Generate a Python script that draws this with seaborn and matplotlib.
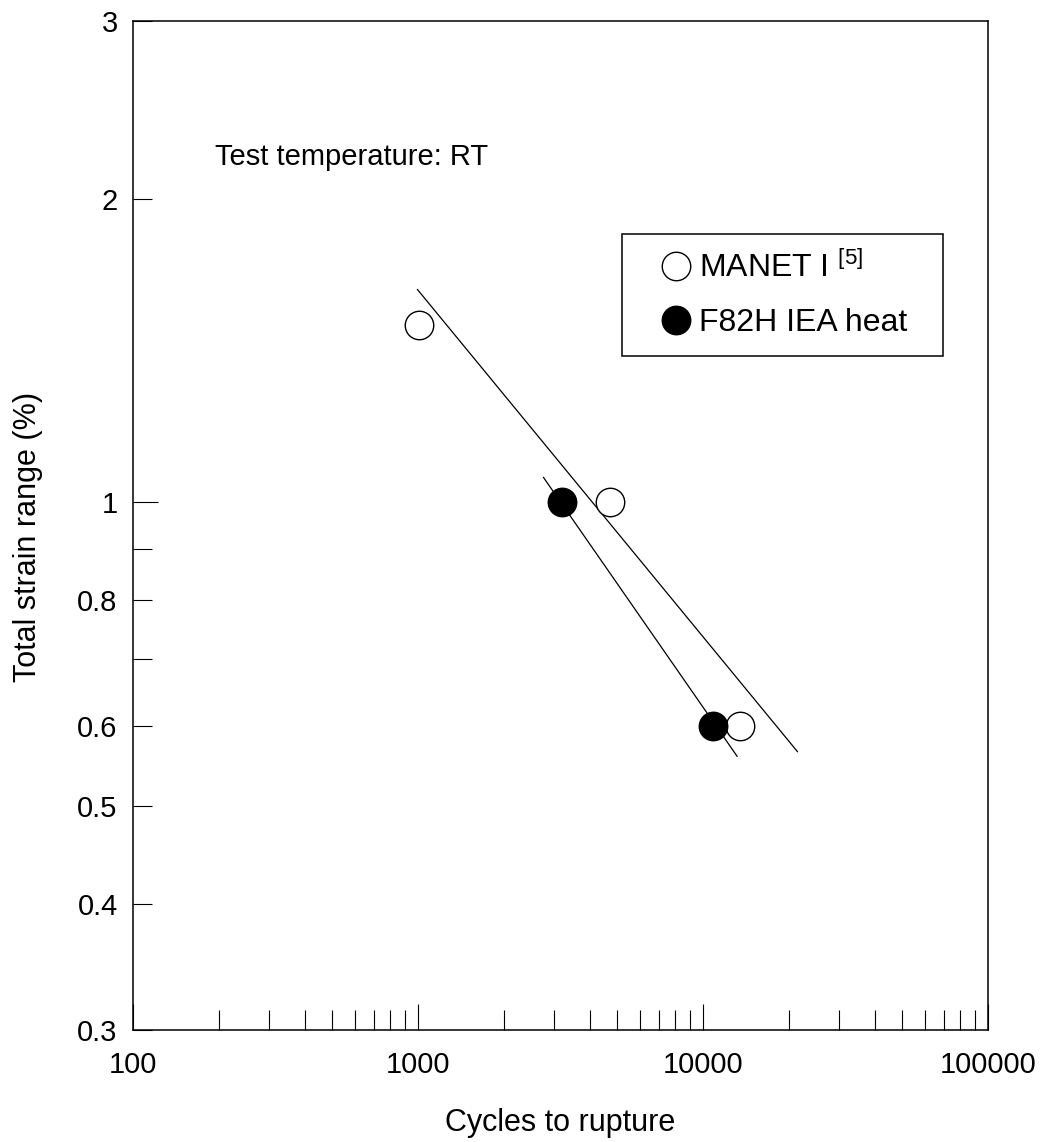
import numpy as np
import pandas as pd
import seaborn as sns
import matplotlib
matplotlib.use("Agg")
import matplotlib.pyplot as plt
from matplotlib.ticker import FixedLocator, FuncFormatter, NullFormatter
from matplotlib.lines import Line2D

# ---- data -------------------------------------------------------------
manet_cycles = [1010, 4720, 13490]
manet_strain = [1.5, 1.0, 0.6]

f82h_cycles = [3190, 10870]
f82h_strain = [1.0, 0.6]

# end points of the fitted fatigue lines
manet_fit_cycles = [995, 21480]
manet_fit_strain = [1.626, 0.566]
f82h_fit_cycles = [2755, 13190]
f82h_fit_strain = [1.059, 0.560]

series_names = ["MANET I $^{[5]}$", "F82H IEA heat"]

y_labelled = [0.3, 0.4, 0.5, 0.6, 0.8, 1, 2, 3]
y_unlabelled = [0.7, 0.9]
x_major = [100, 1000, 10000, 100000]

# ---- style ------------------------------------------------------------
sns.set_theme(style="white")
plt.rcParams["font.family"] = ["Liberation Sans", "DejaVu Sans"]
plt.rcParams["mathtext.fontset"] = "custom"
plt.rcParams["mathtext.rm"] = "Liberation Sans"
for key in ["text.color", "axes.labelcolor", "xtick.color", "ytick.color",
            "xtick.labelcolor", "ytick.labelcolor"]:
    plt.rcParams[key] = "black"

fig = plt.figure(figsize=(10.62, 11.42), dpi=100)
ax = fig.add_axes([0.1252, 0.0981, 0.8051, 0.8835])

points = pd.DataFrame({
    "cycles": manet_cycles + f82h_cycles,
    "strain": manet_strain + f82h_strain,
    "material": [series_names[0]] * len(manet_cycles) + [series_names[1]] * len(f82h_cycles),
})
fits = pd.DataFrame({
    "cycles": manet_fit_cycles + f82h_fit_cycles,
    "strain": manet_fit_strain + f82h_fit_strain,
    "material": [series_names[0]] * 2 + [series_names[1]] * 2,
})

ax.set_xscale("log")
ax.set_yscale("log")

sns.lineplot(data=fits, x="cycles", y="strain", units="material", estimator=None,
             color="black", linewidth=0.9, ax=ax, legend=False, sort=False)

for name, face in zip(series_names, ["white", "black"]):
    sub = points[points["material"] == name]
    sns.scatterplot(data=sub, x="cycles", y="strain", ax=ax, s=20.5 ** 2,
                    marker="o", facecolor=face, edgecolor="black",
                    linewidth=1.0, legend=False, zorder=3)

ax.set_xlim(100, 100000)
ax.set_ylim(0.3, 3)

# ---- axes frame and ticks ---------------------------------------------
for sp in ax.spines.values():
    sp.set_color("black")
    sp.set_linewidth(1.1)

x_minor = [m * d for d in [100, 1000, 10000] for m in range(2, 10)]
ax.xaxis.set_major_locator(FixedLocator(x_major))
ax.xaxis.set_minor_locator(FixedLocator(x_minor))
ax.xaxis.set_major_formatter(FuncFormatter(lambda v, p: f"{v:.0f}"))
ax.xaxis.set_minor_formatter(NullFormatter())

ax.yaxis.set_major_locator(FixedLocator([1]))
ax.yaxis.set_minor_locator(FixedLocator([v for v in y_labelled if v != 1] + y_unlabelled))
ax.yaxis.set_major_formatter(FuncFormatter(lambda v, p: "1"))
ax.yaxis.set_minor_formatter(
    FuncFormatter(lambda v, p: "" if any(abs(v - u) < 1e-9 for u in y_unlabelled) else f"{v:g}"))

ax.tick_params(axis="x", which="major", direction="in", length=18.5, width=0.8,
               labelsize=21, pad=15, color="black", labelcolor="black",
               bottom=True, top=False)
ax.tick_params(axis="x", which="minor", direction="in", length=14.4, width=0.8,
               bottom=True, top=False, color="black")
ax.tick_params(axis="y", which="major", direction="in", length=18, width=0.8,
               labelsize=21, pad=11, color="black", labelcolor="black",
               left=True, right=False)
ax.tick_params(axis="y", which="minor", direction="in", length=13.5, width=0.8,
               labelsize=21, pad=11, color="black", labelcolor="black",
               left=True, right=False)

ax.set_xlabel("Cycles to rupture", fontsize=22, color="black")
ax.set_ylabel("Total strain range (%)", fontsize=22, color="black")
ax.xaxis.set_label_coords(0.5, -0.0922)
ax.xaxis.label.set_va("center")
ax.yaxis.set_label_coords(-0.123, 0.489)
ax.yaxis.label.set_va("center")

ax.text(0.096, 0.865, "Test temperature: RT", transform=ax.transAxes,
        fontsize=21, va="center", ha="left", color="black")

# ---- legend -------------------------------------------------------------
handles = [
    Line2D([], [], linestyle="none", marker="o", markersize=20.5,
           markerfacecolor=face, markeredgecolor="black", markeredgewidth=1.0)
    for face in ["white", "black"]
]
leg = ax.legend(handles, series_names, loc="upper left",
                bbox_to_anchor=(0.572, 0.659, 0.375, 0.13), mode="expand",
                borderaxespad=0, fontsize=23, frameon=True, fancybox=False,
                framealpha=1, edgecolor="black", borderpad=0.55,
                handlelength=2.3, handletextpad=-0.45, labelspacing=0.75)
leg.get_frame().set_linewidth(1.1)
for t in leg.get_texts():
    t.set_color("black")

fig.savefig("out.png", dpi=100, facecolor="white")
